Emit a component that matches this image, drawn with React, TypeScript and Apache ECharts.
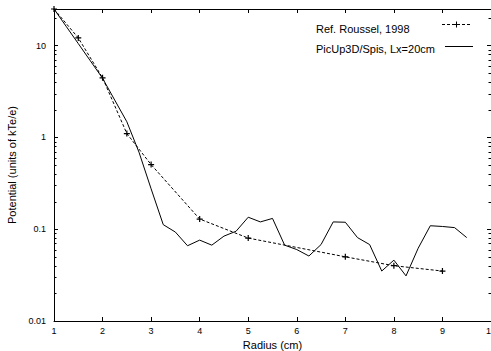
import React, { useEffect, useRef } from "react";
import * as echarts from "echarts";

const refRadius = [1, 1.5, 2, 2.5, 3, 4, 5, 7, 8, 9];
const refPotential = [25, 12.1, 4.45, 1.1, 0.505, 0.129, 0.08, 0.05, 0.04, 0.035];

const simRadius = [
  1, 1.25, 1.5, 1.75, 2, 2.25, 2.5, 2.75, 3, 3.25, 3.5, 3.75, 4, 4.25, 4.5, 4.75,
  5, 5.25, 5.5, 5.75, 6, 6.25, 6.5, 6.75, 7, 7.25, 7.5, 7.75, 8, 8.25, 8.5, 8.75,
  9, 9.25, 9.5,
];
const simPotential = [
  25, 16.2, 10.5, 6.8, 4.4, 2.55, 1.48, 0.69, 0.275, 0.112, 0.093, 0.066, 0.076,
  0.067, 0.084, 0.095, 0.135, 0.12, 0.131, 0.067, 0.06, 0.051, 0.068, 0.12, 0.119,
  0.081, 0.068, 0.035, 0.046, 0.031, 0.062, 0.109, 0.107, 0.104, 0.081,
];

const xTickValues = [1, 2, 3, 4, 5, 6, 7, 8, 9, 10];
const yMinorTicks = [
  0.02, 0.03, 0.04, 0.05, 0.06, 0.07, 0.08, 0.09,
  0.2, 0.3, 0.4, 0.5, 0.6, 0.7, 0.8, 0.9,
  2, 3, 4, 5, 6, 7, 8, 9, 20,
];

const refName = "Ref. Roussel, 1998";
const simName = "PicUp3D/Spis, Lx=20cm";

const FONT = "'Liberation Sans', Arial, Helvetica, sans-serif";
const PLUS = "path://M2,0h1v2h2v1h-2v2h-1v-2h-2v-1h2z";

export default function App() {
  const ref = useRef<HTMLDivElement>(null);
  useEffect(() => {
    if (!ref.current) return;
    const chart = echarts.init(ref.current, null, { renderer: "svg" });
    const xMin = xTickValues[0];
    const xMax = xTickValues[xTickValues.length - 1];
    const axisLine = { show: true, lineStyle: { color: "#000", width: 1 } };
    const tick = { show: true, inside: true, length: 4, lineStyle: { color: "#000", width: 1 } };
    chart.setOption({
      animation: false,
      backgroundColor: "#fff",
      textStyle: { fontFamily: FONT },
      grid: { left: 54, right: 0, top: 9, bottom: 30, containLabel: false, outerBoundsMode: "none" },
      xAxis: [
        {
          type: "value",
          min: xMin,
          max: xMax,
          interval: 1,
          position: "bottom",
          name: "Radius (cm)",
          nameLocation: "middle",
          nameGap: 15,
          nameTextStyle: { color: "#000", fontSize: 11, fontFamily: FONT, verticalAlign: "top" },
          axisLine,
          axisTick: tick,
          axisLabel: { color: "#000", fontSize: 9, fontFamily: FONT, margin: 5 },
          splitLine: { show: false },
        },
        {
          type: "value",
          min: xMin,
          max: xMax,
          interval: 1,
          position: "top",
          axisLine,
          axisTick: tick,
          axisLabel: { show: false },
          splitLine: { show: false },
        },
      ],
      yAxis: [
        {
          type: "log",
          logBase: 10,
          min: 0.01,
          max: 25,
          position: "left",
          name: "Potential (units of kTe/e)",
          nameLocation: "middle",
          nameGap: 36,
          nameRotate: 90,
          nameTextStyle: { color: "#000", fontSize: 11, fontFamily: FONT },
          axisLine,
          axisTick: tick,
          axisLabel: { color: "#000", fontSize: 9, fontFamily: FONT, margin: 8, showMaxLabel: false },
          splitLine: { show: false },
        },
        {
          type: "log",
          logBase: 10,
          min: 0.01,
          max: 25,
          position: "right",
          axisLine,
          axisTick: tick,
          axisLabel: { show: false },
          splitLine: { show: false },
        },
      ],
      series: [
        {
          name: simName,
          type: "line",
          data: simRadius.map((r, i) => [r, simPotential[i]]),
          showSymbol: false,
          symbol: "none",
          lineStyle: { color: "#000", width: 1 },
          z: 3,
        },
        {
          name: refName,
          type: "line",
          data: refRadius.map((r, i) => [r, refPotential[i]]),
          symbol: PLUS,
          symbolSize: 6,
          itemStyle: { color: "#000" },
          lineStyle: { color: "#000", width: 1, type: [3, 2] },
          z: 4,
        },
        {
          type: "custom",
          data: yMinorTicks.map((v) => [xMin, v]),
          encode: { x: 0, y: 1 },
          clip: false,
          silent: true,
          renderItem: (params: any, api: any) => {
            const v = api.value(1);
            const l = api.coord([xMin, v]);
            const r = api.coord([xMax, v]);
            const y = Math.round(l[1]) + 0.5;
            return {
              type: "group",
              children: [
                { type: "line", shape: { x1: l[0], y1: y, x2: l[0] + 2.5, y2: y }, style: { stroke: "#000", lineWidth: 1 } },
                { type: "line", shape: { x1: r[0] - 2.5, y1: y, x2: r[0], y2: y }, style: { stroke: "#000", lineWidth: 1 } },
              ],
            };
          },
        },
      ],
      graphic: [
        { type: "text", left: 316, top: 23, style: { text: refName, font: `11px ${FONT}`, fill: "#000" } },
        { type: "line", shape: { x1: 442, y1: 24.5, x2: 471, y2: 24.5 }, style: { stroke: "#000", lineWidth: 1, lineDash: [3, 2] } },
        { type: "line", shape: { x1: 456.5, y1: 21.5, x2: 456.5, y2: 27.5 }, style: { stroke: "#000", lineWidth: 1 } },
        { type: "line", shape: { x1: 453.5, y1: 24.5, x2: 459.5, y2: 24.5 }, style: { stroke: "#000", lineWidth: 1 } },
        { type: "text", left: 316, top: 43, style: { text: simName, font: `11px ${FONT}`, fill: "#000" } },
        { type: "line", shape: { x1: 445, y1: 46.5, x2: 473, y2: 46.5 }, style: { stroke: "#000", lineWidth: 1 } },
      ],
    });
    return () => chart.dispose();
  }, []);
  return (
    <div
      ref={ref}
      style={{ position: "fixed", left: 0, top: 0, width: 491, height: 351, background: "#fff" }}
    />
  );
}
